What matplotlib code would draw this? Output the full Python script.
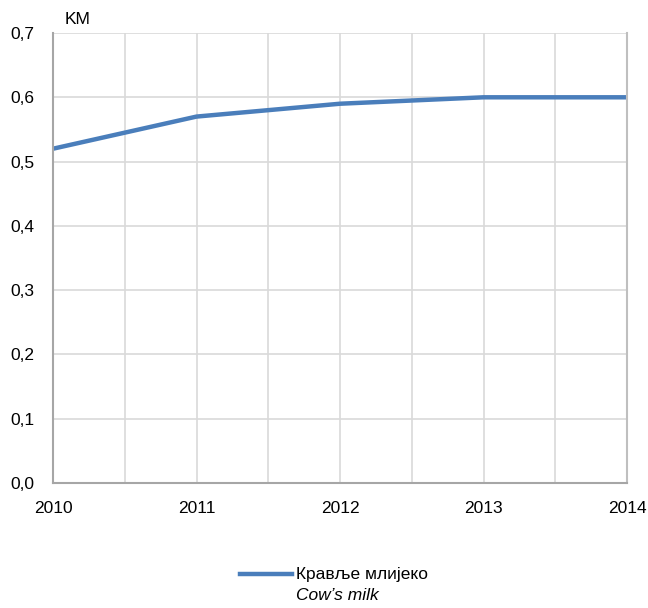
import matplotlib
matplotlib.use("Agg")
from matplotlib import pyplot as plt
from matplotlib.lines import Line2D

years = [2010, 2011, 2012, 2013, 2014]
cow_milk = [0.52, 0.57, 0.59, 0.60, 0.60]
y_ticks = [0.0, 0.1, 0.2, 0.3, 0.4, 0.5, 0.6, 0.7]

plt.rcParams['font.family'] = ['Liberation Sans', 'DejaVu Sans']
line_color = '#4a7ebb'
grid_color = '#d9d9d9'

fig = plt.figure(figsize=(6.48, 6.08), dpi=100)
ax = fig.add_axes([0.0818, 0.2056, 0.8858, 0.7401])

ax.plot(years, cow_milk, color=line_color, linewidth=3.2, solid_capstyle='butt')

ax.set_xlim(2010, 2014)
ax.set_ylim(0, 0.7)
ax.set_xticks(years)
ax.set_xticks([2010.5, 2011.5, 2012.5, 2013.5], minor=True)
ax.set_yticks(y_ticks)
ax.set_yticklabels([f"{v:.1f}".replace('.', ',') for v in y_ticks])
ax.grid(True, which='both', color=grid_color, linewidth=1.2)
ax.set_axisbelow(True)
ax.tick_params(which='both', length=0, labelsize=12.5)
ax.tick_params(axis='y', pad=13.5)
ax.tick_params(axis='x', pad=13)

ax.spines['top'].set_visible(False)
ax.spines['right'].set_color('#bfbfbf')
ax.spines['left'].set_color('#a6a6a6')
ax.spines['bottom'].set_color('#a6a6a6')
for s in ['left', 'bottom', 'right']:
    ax.spines[s].set_linewidth(1.5)

fig.text(65 / 648, 1 - 20 / 608, 'KM', fontsize=12.5, va='center', ha='left')

# legend
fig.add_artist(Line2D([240 / 648, 292 / 648], [1 - 574 / 608, 1 - 574 / 608],
                      color=line_color, linewidth=3.2, transform=fig.transFigure))
fig.text(296 / 648, 1 - 574 / 608, 'Крављe млијеко', fontsize=12.5, va='center', ha='left')
fig.text(296 / 648, 1 - 596 / 608, 'Cow\u2019s milk', fontsize=12.5, va='center', ha='left',
         style='italic')

fig.savefig('out.png', dpi=100)
